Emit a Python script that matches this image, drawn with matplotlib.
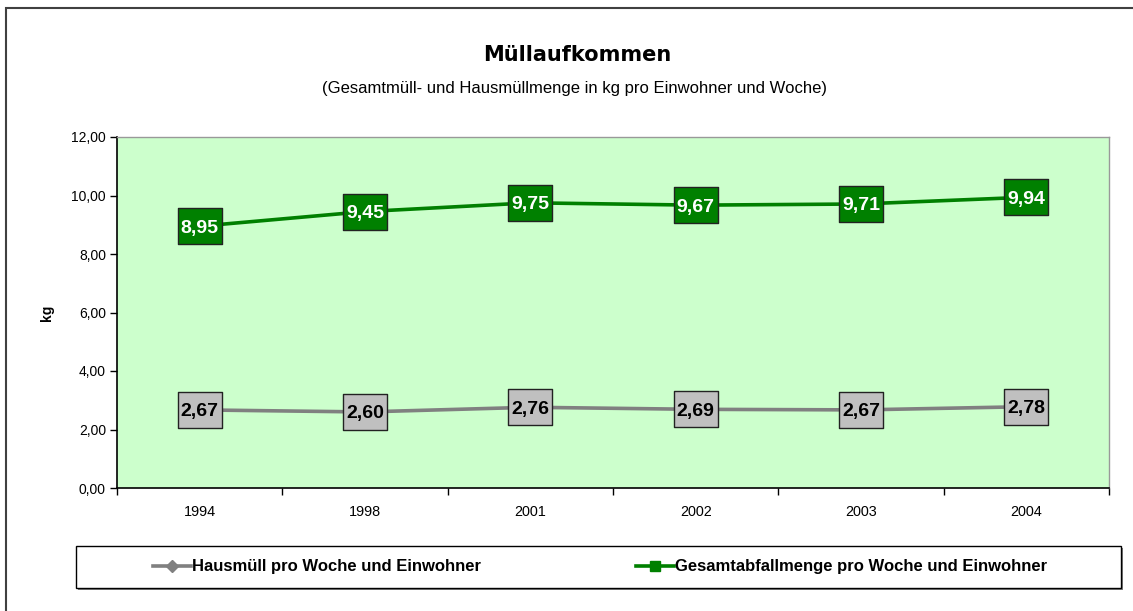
import matplotlib.pyplot as plt
from matplotlib.patches import Rectangle
from matplotlib.lines import Line2D
from matplotlib.path import Path
from matplotlib.ticker import FixedLocator

plt.rcParams['font.family'] = ['Liberation Sans', 'DejaVu Sans']

# --- data ---
years = ['1994', '1998', '2001', '2002', '2003', '2004']
hausmuell = [2.67, 2.60, 2.76, 2.69, 2.67, 2.78]
gesamt = [8.95, 9.45, 9.75, 9.67, 9.71, 9.94]
y_ticks = [0, 2, 4, 6, 8, 10, 12]

green = '#008000'
grey = '#808080'

W, H = 1133, 611
fig = plt.figure(figsize=(W / 100, H / 100), dpi=100)

# outer chart border (runs off right/bottom like the original)
fig.patches.append(Rectangle((6 / W, -0.05), 1.2, (H - 8) / H + 0.05, transform=fig.transFigure,
                             fill=False, edgecolor='#404040', lw=1.5, zorder=0))

ax = fig.add_axes([117 / W, (H - 488) / H, (1109 - 117) / W, (488 - 137) / H])
ax.set_facecolor('#CCFFCC')

x = list(range(len(years)))
ax.plot(x, hausmuell, color=grey, lw=2.6, zorder=3)
ax.plot(x, gesamt, color=green, lw=2.6, zorder=3)

# boxed value labels (Excel style): a rectangle marker + text on top
box = Path([(-0.5, -0.4), (0.5, -0.4), (0.5, 0.4), (-0.5, 0.4), (-0.5, -0.4)],
           [Path.MOVETO, Path.LINETO, Path.LINETO, Path.LINETO, Path.CLOSEPOLY])
ax.plot(x, hausmuell, ls='none', marker=box, ms=32, mfc='#C0C0C0', mec='#222222', mew=1, zorder=4)
ax.plot(x, gesamt, ls='none', marker=box, ms=32, mfc=green, mec='#222222', mew=1, zorder=4)
for xi, v in zip(x, hausmuell):
    ax.text(xi, v, f'{v:.2f}'.replace('.', ','), ha='center', va='center_baseline', fontsize=14,
            fontweight='bold', color='black', zorder=5)
for xi, v in zip(x, gesamt):
    ax.text(xi, v, f'{v:.2f}'.replace('.', ','), ha='center', va='center_baseline', fontsize=14,
            fontweight='bold', color='white', zorder=5)

ax.set_xlim(-0.5, len(years) - 0.5)
ax.set_ylim(0, 12)
ax.set_yticks(y_ticks)
ax.set_yticklabels([f'{t:.2f}'.replace('.', ',') for t in y_ticks], fontsize=10)
ax.set_xticks(x)
ax.set_xticklabels(years, fontsize=10.4)
ax.xaxis.set_minor_locator(FixedLocator([i - 0.5 for i in range(len(years) + 1)]))
ax.tick_params(axis='x', which='major', length=0, pad=12)
ax.tick_params(axis='x', which='minor', length=5, direction='out', width=1)
ax.tick_params(axis='y', length=5, direction='out', width=1, pad=3)

for side in ['top', 'right']:
    ax.spines[side].set_color('#999999')
    ax.spines[side].set_linewidth(1)
for side in ['left', 'bottom']:
    ax.spines[side].set_color('black')
    ax.spines[side].set_linewidth(1.2)

ax.set_ylabel('kg', fontsize=10, fontweight='bold', labelpad=12)

# titles
fig.text(577 / W, 1 - 55 / H, 'Müllaufkommen', ha='center', va='center',
         fontsize=15, fontweight='bold', family=['DejaVu Sans'])
fig.text(575 / W, 1 - 89 / H, '(Gesamtmüll- und Hausmüllmenge in kg pro Einwohner und Woche)',
         ha='center', va='center', fontsize=12)

# legend box with shadow
lx0, ly0, lx1, ly1 = 76, 546, 1121, 588
fig.patches.append(Rectangle(((lx0 + 2) / W, 1 - (ly1 + 2) / H), (lx1 - lx0) / W, (ly1 - ly0) / H,
                             transform=fig.transFigure, fc='#808080', ec='none', zorder=1))
fig.patches.append(Rectangle((lx0 / W, 1 - ly1 / H), (lx1 - lx0) / W, (ly1 - ly0) / H,
                             transform=fig.transFigure, fc='white', ec='black', lw=1, zorder=2))

handles = [Line2D([], [], color=grey, lw=2.6, marker='D', ms=6),
           Line2D([], [], color=green, lw=2.6, marker='s', ms=7)]
labels = ['Hausmüll pro Woche und Einwohner', 'Gesamtabfallmenge pro Woche und Einwohner']
leg = fig.legend(handles, labels, loc='center', bbox_to_anchor=(600 / W, 1 - 567 / H),
                 ncol=2, frameon=False, prop={'size': 12, 'weight': 'bold'},
                 handlelength=2.3, handletextpad=0.05, columnspacing=9.3)
leg.set_zorder(3)

fig.savefig('out.png', dpi=100)
